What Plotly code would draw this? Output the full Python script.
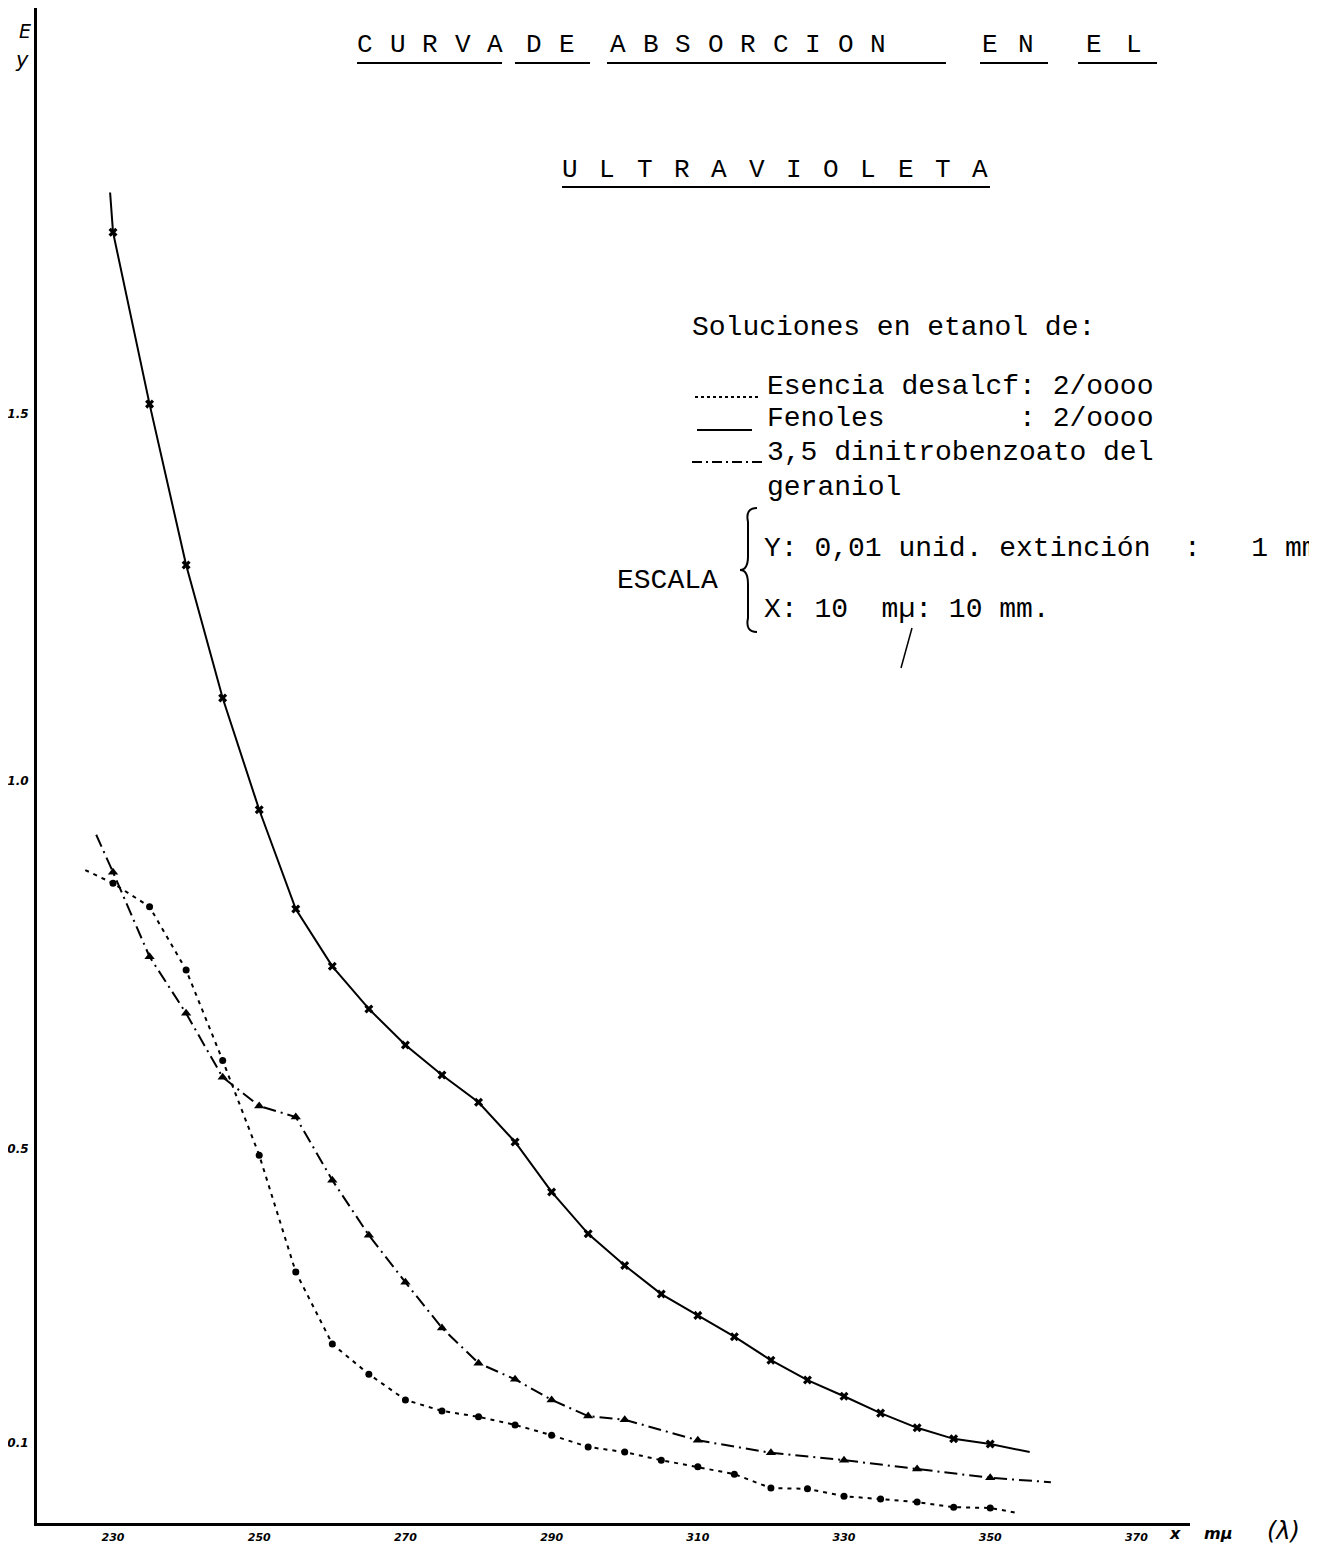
import plotly.graph_objects as go

# ---------------- data ----------------
wavelength = [230, 235, 240, 245, 250, 255, 260, 265, 270, 275, 280, 285, 290,
              295, 300, 305, 310, 315, 320, 325, 330, 335, 340, 345, 350]

fenoles = [1.747, 1.513, 1.294, 1.113, 0.961, 0.826, 0.748, 0.690, 0.641, 0.600,
           0.563, 0.509, 0.441, 0.384, 0.341, 0.302, 0.273, 0.244, 0.212, 0.185,
           0.163, 0.140, 0.120, 0.105, 0.098]
fenoles_start = (229.6, 1.801)
fenoles_end = (355.4, 0.087)

esencia = [0.861, 0.829, 0.743, 0.620, 0.491, 0.332, 0.234, 0.193, 0.158, 0.143,
           0.135, 0.124, 0.110, 0.094, 0.087, 0.076, 0.067, 0.057, 0.038, 0.037,
           0.027, 0.023, 0.019, 0.012, 0.011]
esencia_start = (226.2, 0.879)
esencia_end = (353.8, 0.004)

dinitro_wl = [230, 235, 240, 245, 250, 255, 260, 265, 270, 275, 280, 285, 290,
              295, 300, 310, 320, 330, 340, 350]
dinitro = [0.876, 0.761, 0.684, 0.597, 0.558, 0.543, 0.457, 0.382, 0.318, 0.256,
           0.208, 0.186, 0.158, 0.136, 0.131, 0.103, 0.086, 0.076, 0.064, 0.052]
dinitro_start = (227.7, 0.927)
dinitro_end = (358.3, 0.046)

x_ticks = [230, 250, 270, 290, 310, 330, 350, 370]
x_ticktext = ["230", "250", "270", "290", "310", "330", "350", "370"]
y_ticks = [0.1, 0.5, 1.0, 1.5]
y_ticktext = ["0.1", "0.5", "1.0", "1.5"]

# ---------------- layout helpers ----------------
OFF = 8                     # page offset of the figure inside the html body
W, H = 1317 - OFF, 1549 - OFF
ML, MR, MT, MB = 29, 127, 0, 26
PW = W - ML - MR
PH = H - MT - MB
MONO = "Liberation Mono"
HAND = "DejaVu Sans"


def px(x):
    """page pixel x -> paper fraction"""
    return (x - OFF - ML) / PW


def py(y):
    """page pixel y -> paper fraction"""
    return (H - MB - (y - OFF)) / PH


fig = go.Figure()


def add_series(xs, ys, start, end, dash, symbol, size, name):
    lx = [start[0]] + list(xs) + [end[0]]
    ly = [start[1]] + list(ys) + [end[1]]
    fig.add_trace(go.Scatter(x=lx, y=ly, mode="lines", name=name,
                             line=dict(color="black", width=2, dash=dash),
                             showlegend=False, hoverinfo="skip"))
    fig.add_trace(go.Scatter(x=xs, y=ys, mode="markers", name=name,
                             marker=dict(color="black", symbol=symbol, size=size),
                             showlegend=False))


add_series(wavelength, fenoles, fenoles_start, fenoles_end, "solid", "x", 8, "Fenoles")
add_series(wavelength, esencia, esencia_start, esencia_end, "4px,5px", "circle", 7,
           "Esencia desalcf")
add_series(dinitro_wl, dinitro, dinitro_start, dinitro_end, "13px,5px,2px,5px",
           "triangle-up", 9, "3,5 dinitrobenzoato del geraniol")

annotations = []
shapes = []


def ann(text, x, y, size, family=MONO, xanchor="left", style="normal", weight="normal"):
    annotations.append(dict(text=text, x=px(x), y=py(y), xref="paper", yref="paper",
                            xanchor=xanchor, yanchor="middle", showarrow=False,
                            font=dict(family=family, size=size, color="black",
                                      style=style, weight=weight)))


def seg(x0, y0, x1, y1, width=2, dash="solid"):
    shapes.append(dict(type="line", xref="paper", yref="paper",
                       x0=px(x0), y0=py(y0), x1=px(x1), y1=py(y1),
                       line=dict(color="black", width=width, dash=dash)))


# Title, letter by letter (typewriter spacing)
title_words = [("CURVA", 365, 32.5, 45), ("DE", 534, 32.5, 45),
               ("ABSORCION", 618, 32.5, 45), ("EN", 990, 36, 45),
               ("EL", 1094, 40, 45), ("ULTRAVIOLETA", 570, 37.3, 170)]
for word, x0, step, yy in title_words:
    for i, ch in enumerate(word):
        ann(ch, x0 + i * step, yy, 26, xanchor="center")

for x0, x1, yy in [(357, 502, 63), (515, 590, 63), (607, 946, 63), (980, 1048, 63),
                   (1078, 1157, 63), (562, 990, 187)]:
    seg(x0, yy, x1, yy, width=2)

# Legend block
ann("Soluciones en etanol de:", 690, 327, 28)
ann("Esencia desalcf: 2/oooo", 765, 386, 28)
ann("Fenoles        : 2/oooo", 765, 418, 28)
ann("3,5 dinitrobenzoato del", 765, 452, 28)
ann("geraniol", 765, 487, 28)
seg(695, 397, 760, 397, width=2, dash="dot")
seg(697, 430, 752, 430, width=2)
seg(692, 462, 762, 462, width=2, dash="10px,4px,2px,4px")

# Scale block
ann("ESCALA", 615, 580, 28)
ann("Y: 0,01 unid. extinción  :   1 mm", 762, 548, 28)
ann("X: 10  mµ: 10 mm.", 762, 610, 28)
seg(912, 628, 901, 668, width=1.5)
brace_pts = [(757, 508), (745, 508), (748, 522), (748, 556), (748, 570), (740, 570),
             (748, 570), (748, 584), (748, 618), (745, 632), (757, 632)]
p = [(px(a), py(b)) for a, b in brace_pts]
path = (f"M {p[0][0]},{p[0][1]} Q {p[1][0]},{p[1][1]} {p[2][0]},{p[2][1]} "
        f"L {p[3][0]},{p[3][1]} Q {p[4][0]},{p[4][1]} {p[5][0]},{p[5][1]} "
        f"Q {p[6][0]},{p[6][1]} {p[7][0]},{p[7][1]} L {p[8][0]},{p[8][1]} "
        f"Q {p[9][0]},{p[9][1]} {p[10][0]},{p[10][1]}")
shapes.append(dict(type="path", xref="paper", yref="paper", path=path,
                   line=dict(color="black", width=2)))

# Axis titles (handwritten)
ann("E", 25, 31, 19, family=HAND, xanchor="center", style="italic")
ann("y", 22, 60, 21, family=HAND, xanchor="center", style="italic")
ann("x", 1175, 1533, 16, family=HAND, xanchor="center", style="italic", weight="bold")
ann("mµ", 1218, 1533, 16, family=HAND, xanchor="center", style="italic", weight="bold")
ann("(λ)", 1283, 1531, 24, family=HAND, xanchor="center", style="italic")

fig.update_layout(
    width=W, height=H,
    margin=dict(l=ML, r=MR, t=MT, b=MB),
    paper_bgcolor="white", plot_bgcolor="white",
    showlegend=False,
    annotations=annotations, shapes=shapes,
    xaxis=dict(range=[219.6, 377.33], tickvals=x_ticks, ticktext=x_ticktext,
               showline=True, linecolor="black", linewidth=3, showgrid=False,
               zeroline=False, ticks="", ticklabelstandoff=2,
               tickfont=dict(family=HAND, size=11, color="black", style="italic",
                             weight="bold")),
    yaxis=dict(range=[-0.0095, 2.052], tickvals=y_ticks, ticktext=y_ticktext,
               showline=True, linecolor="black", linewidth=3, showgrid=False,
               zeroline=False, ticks="", ticklabelstandoff=3,
               tickfont=dict(family=HAND, size=12, color="black", style="italic",
                             weight="bold")),
)

fig.write_html("out.html")
